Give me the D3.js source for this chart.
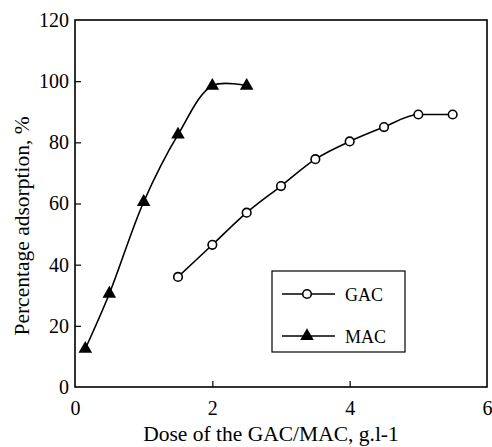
<!DOCTYPE html>
<html>
<head>
<meta charset="utf-8">
<script src="https://cdn.jsdelivr.net/npm/d3@7"></script>
<style>
  body { margin: 0; background: #fff; }
  svg text { font-family: "Liberation Serif", "DejaVu Serif", serif; fill: #000; }
</style>
</head>
<body>
<div id="chart"></div>
<script>
// data
const gacDose = [1.5, 2, 2.5, 3, 3.5, 4, 4.5, 5, 5.5];
const gacAdsorption = [36, 46.5, 57, 65.7, 74.5, 80.3, 85, 89.1, 89.1];
const macDose = [0.15, 0.5, 1, 1.5, 2, 2.5];
const macAdsorption = [12.5, 30.5, 60.5, 82.5, 98.5, 98.5];
const xTicks = [0, 2, 4, 6];
const yTicks = [0, 20, 40, 60, 80, 100, 120];

const width = 492, height = 447;
const margin = { top: 20, right: 5, bottom: 60, left: 75 };

const svg = d3.select("#chart").append("svg")
  .attr("width", width)
  .attr("height", height);

const x = d3.scaleLinear().domain([0, 6]).range([margin.left, width - margin.right]);
const y = d3.scaleLinear().domain([0, 120]).range([height - margin.bottom, margin.top]);

// frame
svg.append("rect")
  .attr("x", x(0)).attr("y", y(120))
  .attr("width", x(6) - x(0)).attr("height", y(0) - y(120))
  .attr("fill", "none").attr("stroke", "#000").attr("stroke-width", 1.6);

// axes (ticks point inward)
const xAxis = svg.append("g")
  .attr("transform", `translate(0,${y(0)})`)
  .call(d3.axisBottom(x).tickValues(xTicks).tickSize(-6).tickPadding(14).tickFormat(d3.format("d")));
const yAxis = svg.append("g")
  .attr("transform", `translate(${x(0)},0)`)
  .call(d3.axisLeft(y).tickValues(yTicks).tickSize(-6).tickPadding(6).tickFormat(d3.format("d")));

[xAxis, yAxis].forEach(g => {
  g.select(".domain").remove();
  g.selectAll(".tick line").attr("stroke", "#000").attr("stroke-width", 1.2);
  g.selectAll(".tick text").style("font-size", "20px").attr("fill", "#000");
});
xAxis.selectAll(".tick").filter(d => d === 0 || d === 6).select("line").remove();
yAxis.selectAll(".tick").filter(d => d === 0 || d === 120).select("line").remove();

// axis titles
svg.append("text")
  .attr("x", 271).attr("y", 441)
  .attr("text-anchor", "middle")
  .style("font-size", "21.5px")
  .text("Dose of the GAC/MAC, g.l-1");

svg.append("text")
  .attr("transform", "translate(29,226) rotate(-90)")
  .attr("text-anchor", "middle")
  .style("font-size", "21.5px")
  .text("Percentage adsorption, %");

const gac = gacDose.map((d, i) => ({ x: d, y: gacAdsorption[i] }));
const mac = macDose.map((d, i) => ({ x: d, y: macAdsorption[i] }));

const gacLine = d3.line()
  .x(d => x(d.x))
  .y(d => y(d.y))
  .curve(d3.curveMonotoneX);
const macLine = d3.line()
  .x(d => x(d.x))
  .y(d => y(d.y))
  .curve(d3.curveCatmullRom.alpha(0.5));

svg.append("path").datum(gac)
  .attr("d", gacLine).attr("fill", "none").attr("stroke", "#000").attr("stroke-width", 1.6);
svg.append("path").datum(mac)
  .attr("d", macLine).attr("fill", "none").attr("stroke", "#000").attr("stroke-width", 1.6);

const tri = d3.symbol().type(d3.symbolTriangle).size(80);

svg.selectAll(".gac-pt").data(gac).enter().append("circle")
  .attr("class", "gac-pt")
  .attr("cx", d => x(d.x)).attr("cy", d => y(d.y)).attr("r", 4.3)
  .attr("fill", "#fff").attr("stroke", "#000").attr("stroke-width", 1.6);

svg.selectAll(".mac-pt").data(mac).enter().append("path")
  .attr("class", "mac-pt")
  .attr("transform", d => `translate(${x(d.x)},${y(d.y)})`)
  .attr("d", tri).attr("fill", "#000");

// legend
const legend = svg.append("g");
legend.append("rect")
  .attr("x", 272).attr("y", 271).attr("width", 133).attr("height", 81)
  .attr("fill", "#fff").attr("stroke", "#000").attr("stroke-width", 1.2);

const legendItems = [
  { name: "GAC", y: 294, marker: "circle" },
  { name: "MAC", y: 336, marker: "triangle" }
];
legendItems.forEach(item => {
  legend.append("line")
    .attr("x1", 282).attr("x2", 335).attr("y1", item.y).attr("y2", item.y)
    .attr("stroke", "#000").attr("stroke-width", 1.6);
  if (item.marker === "circle") {
    legend.append("circle")
      .attr("cx", 307).attr("cy", item.y).attr("r", 4.3)
      .attr("fill", "#fff").attr("stroke", "#000").attr("stroke-width", 1.6);
  } else {
    legend.append("path")
      .attr("transform", `translate(307,${item.y})`)
      .attr("d", tri).attr("fill", "#000");
  }
  legend.append("text")
    .attr("x", 345).attr("y", item.y + 6.5)
    .style("font-size", "18px")
    .text(item.name);
});
</script>
</body>
</html>
